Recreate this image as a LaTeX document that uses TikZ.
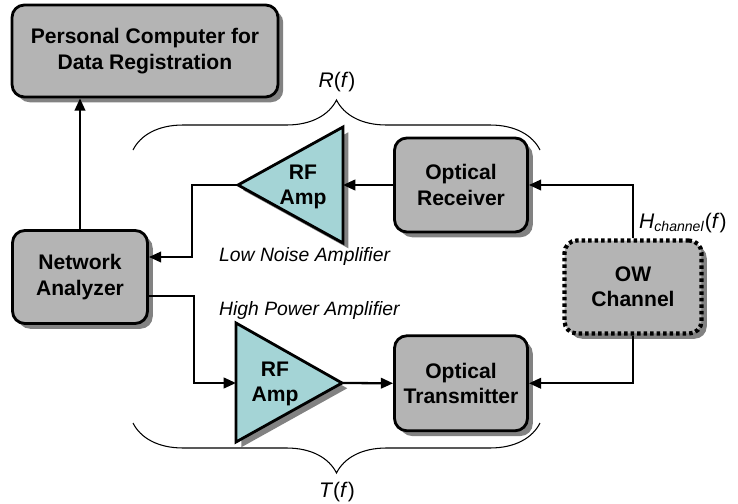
\documentclass[tikz,border=0pt]{standalone}
\usepackage{fontspec}
\setmainfont{Liberation Sans}
\usepackage{tikz}
\usetikzlibrary{arrows.meta, positioning, calc, shadows, decorations.pathreplacing}
\definecolor{boxgray}{RGB}{180,180,180}
\definecolor{ampteal}{RGB}{164,212,214}
\definecolor{shadegray}{RGB}{130,130,130}

\begin{document}
\begin{tikzpicture}[
    x=0.02cm, y=0.02cm,
    block/.style={rectangle, draw, line width=1.6pt, rounded corners=7pt, fill=boxgray,
                  align=center, font=\fontsize{12}{14.5}\selectfont\bfseries,
                  drop shadow={shadow xshift=3pt, shadow yshift=-3pt, fill=shadegray, opacity=1}},
    dotbox/.style={dash pattern=on 2pt off 1.7pt, line cap=butt, line width=2.4pt},
    amp/.style={draw, line width=1.6pt, fill=ampteal, line join=miter,
                drop shadow={shadow xshift=3pt, shadow yshift=-3pt, fill=shadegray, opacity=1}},
    amptext/.style={align=center, font=\fontsize{12}{14.5}\selectfont\bfseries},
    note/.style={font=\fontsize{11}{13}\selectfont\itshape},
    lbl/.style={font=\fontsize{12}{14}\selectfont},
    arr/.style={-{Triangle[length=7pt, width=6pt]}, line width=1.3pt},
    brc/.style={decorate, decoration={brace, amplitude=#1}, line width=0.6pt},
]
    \useasboundingbox (0,0) rectangle (738,-504);

    % Boxes
    \node[block, minimum width=5.32cm, minimum height=1.84cm] (pc) at (145,-51) {Personal Computer for\\Data Registration};
    \node[block, minimum width=2.7cm, minimum height=1.86cm] (na) at (80,-277) {Network\\Analyzer};
    \node[block, minimum width=2.66cm, minimum height=1.88cm] (rx) at (461,-185) {Optical\\Receiver};
    \node[block, minimum width=2.66cm, minimum height=1.9cm, below=2.02cm of rx] (tx) {Optical\\Transmitter};
    \node[block, dotbox, minimum width=2.74cm, minimum height=1.86cm] (ow) at (633,-287) {OW\\Channel};

    % Amplifiers
    \coordinate (lnaback) at (343,-185);
    \coordinate (lnatip) at (238,-185);
    \draw[amp] ($(lnaback)+(0,58)$) -- ($(lnaback)+(0,-58)$) -- (lnatip) -- cycle;
    \node[amptext] (lna) at (303,-187) {RF\\Amp};
    \node[note, anchor=west] (lnalabel) at (213,-257) {Low Noise Amplifier};

    \coordinate (hpain) at (236,-383);
    \coordinate (hpaout) at (342,-383);
    \draw[amp] ($(hpain)+(0,60)$) -- (hpaout) -- ($(hpain)+(0,-59)$) -- cycle;
    \node[amptext] (hpa) at (275,-384) {RF\\Amp};
    \node[note, anchor=west] (hpalabel) at (213,-310) {High Power Amplifier};

    % Connections
    \draw[arr] (na.north) -- (na.north |- pc.south);
    \draw[arr] (rx.west) -- (lnaback);
    \draw[arr] (lnatip) -- ++(-46,0) |- ($(na.east)+(0,20)$);
    \draw[arr] ($(na.east)+(0,-19)$) -- ++(45,0) |- (hpain);
    \draw[arr] (hpaout) -- (tx.west);
    \draw[arr] (ow.north) |- (rx.east);
    \draw[arr] (ow.south) |- (tx.east);

    % Braces and transfer functions
    \draw[brc=1cm] (133,-150) -- (540,-150);
    \node[lbl] (rf) at (337,-82) {\textit{R}(\textit{f})};
    \draw[brc=1cm] (540,-423) -- (133,-423);
    \node[lbl] (tf) at (337,-492) {\textit{T}(\textit{f})};
    \node[lbl, anchor=west] (hch) at (633,-223) {\textit{H}\textsubscript{\textit{channel}}(\textit{f})};

\end{tikzpicture}
\end{document}
